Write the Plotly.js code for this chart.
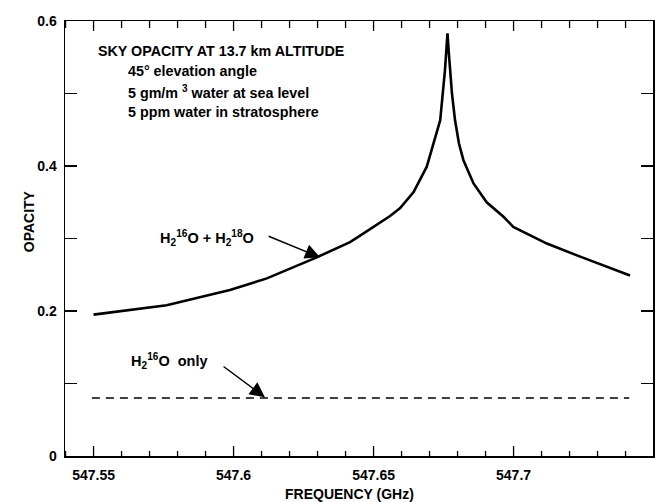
<!DOCTYPE html>
<html>
<head>
<meta charset="utf-8">
<script src="https://cdn.plot.ly/plotly-3.0.1.min.js"></script>
<style>html,body{margin:0;padding:0;background:#fff;}#chart{width:655px;height:502px;}</style>
</head>
<body>
<div id="chart"></div>
<script>
// Frequency (GHz) and opacity, H2-16O + H2-18O (solid curve)
var freqTotal = [547.5500, 547.5761, 547.5987, 547.6119, 547.6297, 547.6416, 547.6452, 547.6559, 547.6595,
                 547.6643, 547.6690, 547.6707, 547.6719, 547.6738, 547.6755, 547.6759, 547.6764, 547.6769,
                 547.6773, 547.6780, 547.6791, 547.6805, 547.6821, 547.6857, 547.6904, 547.6964, 547.6999,
                 547.7119, 547.7238, 547.7416];
var opacityTotal = [0.195, 0.208, 0.229, 0.245, 0.274, 0.295, 0.304, 0.331, 0.342,
                    0.364, 0.399, 0.422, 0.440, 0.463, 0.532, 0.555, 0.583, 0.555,
                    0.532, 0.500, 0.463, 0.431, 0.408, 0.376, 0.350, 0.330, 0.316,
                    0.293, 0.275, 0.249];
// H2-16O only (dashed line)
var freqH216 = [547.5494, 547.6000, 547.6500, 547.7000, 547.7413];
var opacityH216 = [0.080, 0.080, 0.080, 0.080, 0.080];

var xRange = [547.5398, 547.7498];
var xTickVals = [547.55, 547.6, 547.65, 547.7];
var xTickText = ['547.55', '547.6', '547.65', '547.7'];
var xMinorVals = [547.54, 547.56, 547.57, 547.58, 547.59, 547.61, 547.62, 547.63, 547.64,
                  547.66, 547.67, 547.68, 547.69, 547.71, 547.72, 547.73, 547.74];
var yTickVals = [0, 0.2, 0.4, 0.6];
var yTickText = ['0', '0.2', '0.4', '0.6'];
var yMinorVals = [0.1, 0.3, 0.5];

var infoLines = ['SKY OPACITY AT 13.7 km ALTITUDE', '45° elevation angle',
                 '5 gm/m <sup>3</sup> water at sea level', '5 ppm water in stratosphere'];
var labelTotal = 'H<sub>2</sub><sup>16</sup>O + H<sub>2</sub><sup>18</sup>O';
var labelH216 = 'H<sub>2</sub><sup>16</sup>O  only';

var FONT = 'Liberation Sans, Arial, Helvetica, sans-serif';
var tf = {family: FONT, size: 14, color: '#000', weight: 'bold'};
var af = {family: FONT, size: 14.3, color: '#000', weight: 'bold'};
var lf = {family: FONT, size: 14.5, color: '#000', weight: 'bold'};

var traces = [
  {x: freqTotal, y: opacityTotal, mode: 'lines', type: 'scatter',
   line: {color: '#000', width: 2.6}, hoverinfo: 'skip', showlegend: false},
  {x: freqH216, y: opacityH216, mode: 'lines', type: 'scatter',
   line: {color: '#000', width: 1.5, dash: '8px,6px'}, hoverinfo: 'skip', showlegend: false}
];

// inward tick marks on bottom and top edges, placed through the x scale
function tickShapes(vals, lenBottom, lenTop) {
  var out = [];
  vals.forEach(function (v) {
    out.push({type: 'line', xref: 'x', yref: 'paper', ysizemode: 'pixel', yanchor: 0,
              x0: v, x1: v, y0: 0, y1: lenBottom, line: {color: '#000', width: 1.3}, layer: 'above'});
    out.push({type: 'line', xref: 'x', yref: 'paper', ysizemode: 'pixel', yanchor: 1,
              x0: v, x1: v, y0: 0, y1: -lenTop, line: {color: '#000', width: 1.3}, layer: 'above'});
  });
  return out;
}
var shapes = tickShapes(xTickVals, 10, 10).concat(tickShapes(xMinorVals, 5, 7));

var ann = [
  {text: infoLines[0], xref: 'paper', yref: 'paper', x: 0.0527, y: 0.931, xanchor: 'left', yanchor: 'middle', showarrow: false, font: af},
  {text: infoLines[1], xref: 'paper', yref: 'paper', x: 0.1037, y: 0.885, xanchor: 'left', yanchor: 'middle', showarrow: false, font: af},
  {text: infoLines[2], xref: 'paper', yref: 'paper', x: 0.1037, y: 0.8366, xanchor: 'left', yanchor: 'middle', showarrow: false, font: af},
  {text: infoLines[3], xref: 'paper', yref: 'paper', x: 0.1037, y: 0.7905, xanchor: 'left', yanchor: 'middle', showarrow: false, font: af},
  {text: labelTotal, xref: 'paper', yref: 'paper', x: 0.158, y: 0.5006, xanchor: 'left', yanchor: 'middle', showarrow: false, font: lf},
  {text: labelH216, xref: 'paper', yref: 'paper', x: 0.1088, y: 0.2175, xanchor: 'left', yanchor: 'middle', showarrow: false, font: lf},
  {text: 'FREQUENCY (GHz)', xref: 'paper', yref: 'paper', x: 0.4838, y: -0.0863, xanchor: 'center', yanchor: 'middle', showarrow: false, font: tf},
  {text: 'OPACITY', xref: 'paper', yref: 'paper', x: -0.0612, y: 0.5397, xanchor: 'center', yanchor: 'middle', textangle: -90, showarrow: false, font: tf},
  {text: '', x: 547.6309, y: 0.274, ax: 547.6120, ay: 0.304, xref: 'x', yref: 'y', axref: 'x', ayref: 'y',
   showarrow: true, arrowhead: 2, arrowsize: 2, arrowwidth: 1.5, arrowcolor: '#000'},
  {text: '', x: 547.6112, y: 0.081, ax: 547.5959, ay: 0.125, xref: 'x', yref: 'y', axref: 'x', ayref: 'y',
   showarrow: true, arrowhead: 2, arrowsize: 2, arrowwidth: 1.5, arrowcolor: '#000'}
];

var layout = {
  width: 655, height: 502,
  margin: {l: 65, r: 2, t: 21, b: 46},
  paper_bgcolor: '#fff', plot_bgcolor: '#fff',
  showlegend: false,
  font: {family: FONT, color: '#000'},
  xaxis: {
    range: xRange, tickmode: 'array', tickvals: xTickVals, ticktext: xTickText,
    ticks: '', ticklabelstandoff: 6,
    showline: true, linecolor: '#000', linewidth: 1.5, mirror: true,
    showgrid: false, zeroline: false, tickfont: tf
  },
  yaxis: {
    range: [0, 0.6], tickmode: 'array', tickvals: yTickVals, ticktext: yTickText,
    ticks: 'inside', ticklen: 12, tickwidth: 1.3, tickcolor: '#000',
    minor: {tickmode: 'array', tickvals: yMinorVals, ticks: 'inside', ticklen: 12, tickwidth: 1.3, tickcolor: '#000', showgrid: false},
    showline: true, linecolor: '#000', linewidth: 1.5, mirror: 'ticks',
    showgrid: false, zeroline: false, tickfont: tf, ticklabelstandoff: 4
  },
  shapes: shapes,
  annotations: ann
};

Plotly.newPlot('chart', traces, layout, {staticPlot: true, displayModeBar: false});
</script>
</body>
</html>
